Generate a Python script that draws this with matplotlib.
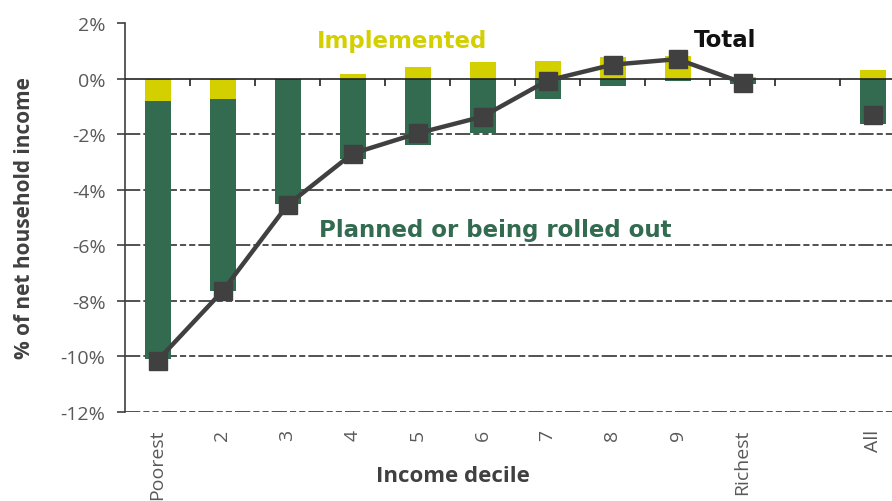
import matplotlib
matplotlib.use("Agg")
import matplotlib.pyplot as plt
import numpy as np

categories = ["Poorest", "2", "3", "4", "5", "6", "7", "8", "9", "Richest", "All"]
positions = [0, 1, 2, 3, 4, 5, 6, 7, 8, 9, 11]
implemented = [-0.80, -0.75, 0.00, 0.18, 0.43, 0.58, 0.65, 0.78, 0.82, 0.05, 0.30]
planned = [-9.30, -6.90, -4.50, -2.90, -2.40, -1.95, -0.72, -0.28, -0.10, -0.20, -1.62]
total = [-10.15, -7.65, -4.55, -2.70, -1.97, -1.37, -0.07, 0.50, 0.70, -0.15, -1.32]
yticks = [2, 0, -2, -4, -6, -8, -10, -12]

YELLOW = "#D4D000"
GREEN = "#336B50"
DARK = "#404040"
GRAY = "#595959"

plt.rcParams['font.family'] = ['Open Sans', 'DejaVu Sans']

fig = plt.figure(figsize=(8.92, 5.02), dpi=100)
ax = fig.add_axes([125/892, 1-413/502, (892-125)/892, (413-24)/502])

pos = np.array(positions, dtype=float)
imp = np.array(implemented)
pl = np.array(planned)
width = 0.4

pl_base = np.where(imp < 0, imp, 0.0)
ax.bar(pos, imp, width=width, color=YELLOW, zorder=3)
ax.bar(pos, pl, width=width, bottom=pl_base, color=GREEN, zorder=3)

n_dec = 10
ax.plot(pos[:n_dec], total[:n_dec], color=DARK, lw=3.2, marker="s", ms=12.5,
        zorder=5, solid_capstyle="butt")
ax.plot(pos[n_dec:], total[n_dec:], color=DARK, lw=0, marker="s", ms=12.5, zorder=5)

ax.set_ylim(-12, 2)
ax.set_xlim(-0.5, 11.3)

for y in yticks:
    if y == 0:
        ax.axhline(0, color="#222222", lw=1.2, zorder=4)
    elif y != 2:
        ax.axhline(y, color="#222222", lw=1.1, dashes=(10, 2, 4, 2, 4, 2), zorder=1)

bounds = np.arange(0, 11) + 0.5
ax.vlines(bounds, -0.25, 0, color="#222222", lw=1.2, zorder=4)

for s in ["top", "right", "bottom"]:
    ax.spines[s].set_visible(False)
ax.spines["left"].set_color(DARK)
ax.spines["left"].set_linewidth(1.2)

ax.set_yticks(yticks)
ax.set_yticklabels([f"{v}%" for v in yticks], color=GRAY, fontsize=14)
ax.tick_params(axis="y", length=6, width=1.2, color=DARK, pad=8)

ax.set_xticks(pos)
ax.set_xticklabels(categories, rotation=90, color=GRAY, fontsize=14, va="top")
ax.tick_params(axis="x", length=0, pad=12)

ax.set_ylabel("% of net household income", color=DARK, fontsize=15,
              fontweight="bold")
ax.yaxis.set_label_coords(-(125-35)/767, 0.5)
ax.set_xlabel("Income decile", color=DARK, fontsize=16, fontweight="bold")
ax.xaxis.set_label_coords((453-125)/767, -0.137)

ann_font = ["DejaVu Sans"]
ax.text(2.45, 1.15, "Implemented", color=YELLOW, fontsize=16.5, fontweight="bold",
        ha="left", va="baseline", family=ann_font)
ax.text(8.25, 1.19, "Total", color="#111111", fontsize=16.5, fontweight="bold",
        ha="left", va="baseline", family=ann_font)
ax.text(2.49, -5.65, "Planned or being rolled out", color=GREEN, fontsize=16.5,
        fontweight="bold", ha="left", va="baseline", family=ann_font)

fig.savefig("out.png", dpi=100)
